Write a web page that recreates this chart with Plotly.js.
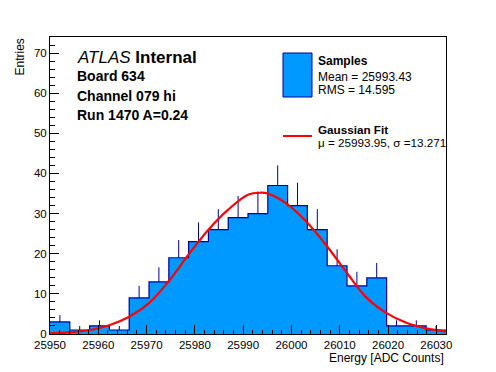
<!DOCTYPE html>
<html><head><meta charset="utf-8">
<script src="https://cdn.plot.ly/plotly-3.0.1.min.js"></script>
<style>html,body{margin:0;padding:0;background:#fff}#chart{width:496px;height:372px}</style>
</head><body><div id="chart"></div>
<script>
// ---- data ----
const binEdges = [25950,25954.1,25958.2,25962.3,25966.4,25970.5,25974.6,25978.7,25982.8,25986.9,25991,25995.1,25999.2,26003.3,26007.4,26011.5,26015.6,26019.7,26023.8,26027.9,26032];
const entries = [3,1,2,1,9,13,19,23,26,29,30,37,32,26,17,12,14,2,2,1];
const entryErrors = [1.7,1.0,1.4,1.0,3.0,3.6,4.4,4.8,5.1,5.4,5.5,5.0,5.7,5.1,4.1,3.5,3.7,1.4,1.4,1.0];
const fitX = [25950,25954.1,25958.2,25962.3,25966.4,25970.5,25974.6,25978.7,25982.8,25986.9,25991,25993.6,25995.1,25999.2,26003.3,26007.4,26011.5,26015.6,26019.7,26023.8,26027.9,26032];
const fitY = [0.15,0.4,1.0,2.2,4.3,7.7,13.2,19.8,26.0,31.0,34.7,35.2,35.0,32.3,27.7,21.8,15.2,9.0,5.2,2.8,1.4,0.6];
const xTickVals = [25950,25960,25970,25980,25990,26000,26010,26020,26030];
const xTickLabels = ['25950','25960','25970','25980','25990','26000','26010','26020','26030'];
const yTickVals = [0,10,20,30,40,50,60,70];
const yTickLabels = ['0','10','20','30','40','50','60','70'];
const labelLines = ['<i>ATLAS</i> <b>Internal</b>','<b>Board 634</b>','<b>Channel 079 hi</b>','<b>Run 1470 A=0.24</b>'];
const statSamples = ['<b>Samples</b>','Mean = 25993.43','RMS = 14.595'];
const statFit = ['<b>Gaussian Fit</b>','\u03bc = 25993.95, \u03c3 =13.271'];
const xTitle = 'Energy [ADC Counts]';
const yTitle = 'Entries';

// ---- derived ----
const centers = entries.map((_, i) => (binEdges[i] + binEdges[i+1]) / 2);
const widths = entries.map((_, i) => binEdges[i+1] - binEdges[i]);
const stepY = entries.concat([entries[entries.length-1]]);
const zeros = entries.map(() => 0);

const FONT = 'Liberation Sans, Arial, Helvetica, sans-serif';
const FILL = '#0099ff';
const DARK = '#000099';

// pixel -> paper helpers (plot area: x 50..446, y 37..334)
const L = 50, R = 446, T = 37, B = 334;
const px = x => (x - L) / (R - L);
const py = y => (B - y) / (B - T);

const traces = [
  {type:'bar', x:centers, y:entries, width:widths, marker:{color:FILL, line:{width:0}}, hoverinfo:'skip'},
  {type:'scatter', mode:'markers', x:centers, y:entries, marker:{size:1, color:'rgba(0,0,0,0)'},
   error_y:{type:'data', symmetric:false, array:entryErrors, arrayminus:zeros, color:DARK, thickness:1, width:0}},
  {type:'scatter', mode:'lines', x:binEdges, y:stepY, line:{shape:'hv', color:DARK, width:1.2}},
  {type:'scatter', mode:'lines', x:fitX, y:fitY, line:{shape:'spline', smoothing:1, color:'#ff0000', width:2.2}}
];

const ann = [];
const labelY = [57, 76, 96, 115];
const labelSize = [17, 14, 14, 14];
labelLines.forEach((t, i) => ann.push({text:t, xref:'paper', yref:'paper', x:px(75), y:py(labelY[i]), xanchor:'left', yanchor:'middle', showarrow:false, font:{size:labelSize[i], color:'#000', family:FONT}}));
const sampY = [61, 77, 90];
statSamples.forEach((t, i) => ann.push({text:t, xref:'paper', yref:'paper', x:px(316), y:py(sampY[i]), xanchor:'left', yanchor:'middle', showarrow:false, font:{size:12, color:'#000', family:FONT}}));
const fitLY = [129, 142];
statFit.forEach((t, i) => ann.push({text:t, xref:'paper', yref:'paper', x:px(316), y:py(fitLY[i]), xanchor:'left', yanchor:'middle', showarrow:false, font:{size:11.7, color:'#000', family:FONT}}));
ann.push({text:xTitle, xref:'paper', yref:'paper', x:1, y:py(358), xanchor:'right', yanchor:'middle', showarrow:false, font:{size:12, color:'#000', family:FONT}});
ann.push({text:yTitle, xref:'paper', yref:'paper', x:px(19), y:1, xanchor:'center', yanchor:'top', textangle:-90, showarrow:false, font:{size:12, color:'#000', family:FONT}});

const shapes = [
  {type:'rect', xref:'paper', yref:'paper', x0:px(283), x1:px(312), y0:py(97), y1:py(53), fillcolor:FILL, line:{color:DARK, width:1}},
  {type:'line', xref:'paper', yref:'paper', x0:px(283), x1:px(312), y0:py(136), y1:py(136), line:{color:'#ff0000', width:2}}
];

const axisCommon = {showline:true, mirror:true, linecolor:'#000', linewidth:1, ticks:'inside', ticklen:9, tickwidth:1, tickcolor:'#000',
  showgrid:false, zeroline:false, tickfont:{size:11.5, color:'#000', family:FONT}, tickmode:'array', automargin:false, fixedrange:true};

const layout = {
  width:496, height:372,
  margin:{l:L, r:496-R, t:T, b:372-B, pad:0},
  paper_bgcolor:'#fff', plot_bgcolor:'#fff',
  showlegend:false, bargap:0, hovermode:false,
  font:{family:FONT, color:'#000'},
  xaxis:Object.assign({}, axisCommon, {range:[binEdges[0], binEdges[binEdges.length-1]], tickvals:xTickVals, ticktext:xTickLabels,
    minor:{ticks:'inside', ticklen:4.5, tickcolor:'#000', tickmode:'linear', tick0:25950, dtick:2, showgrid:false}}),
  yaxis:Object.assign({}, axisCommon, {range:[0, 74], tickvals:yTickVals, ticktext:yTickLabels,
    minor:{ticks:'inside', ticklen:4.5, tickcolor:'#000', tickmode:'linear', tick0:0, dtick:2, showgrid:false}}),
  annotations:ann, shapes:shapes
};

Plotly.newPlot('chart', traces, layout, {staticPlot:true, displayModeBar:false});
</script></body></html>
